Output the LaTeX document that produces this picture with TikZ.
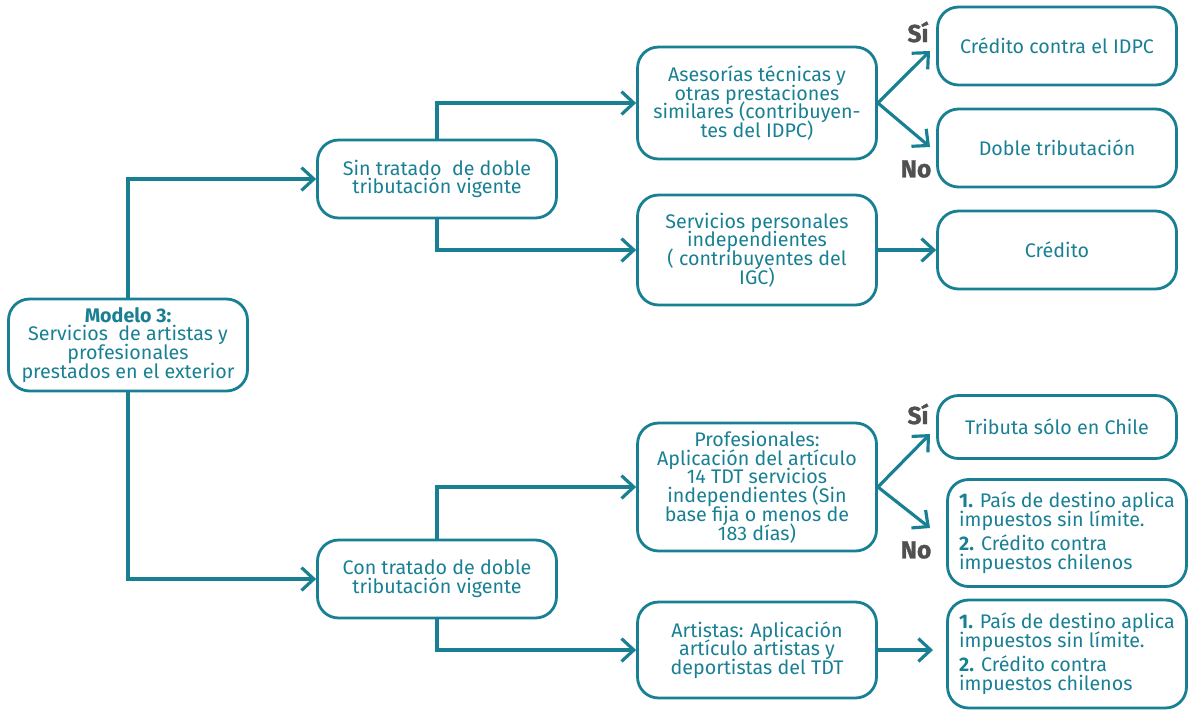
\documentclass[tikz,border=0pt]{standalone}
\usepackage{fontspec}
\setmainfont{Fira Sans}
\usetikzlibrary{arrows.meta}
\definecolor{flowteal}{RGB}{25,128,148}
\definecolor{labgray}{RGB}{80,80,80}
\newcommand{\boxfont}{\fontsize{11.2}{10.7}\selectfont\lineskiplimit=-6pt\relax}

\begin{document}
\begin{tikzpicture}[x=0.02cm,y=-0.02cm,
  box/.style={draw=flowteal,line width=1.6pt,rounded corners=0.42cm,text=flowteal,
    align=center,minimum width=4.78cm,inner sep=2pt,font=\boxfont},
  arr/.style={draw=flowteal,line width=1.8pt,-{Straight Barb[length=7pt,width=13pt,line width=1.8pt]}},
  yesno/.style={text=labgray,font=\bfseries\fontsize{14}{14}\selectfont\addfontfeature{FakeBold=1.2}}]
\useasboundingbox (0,0) rectangle (1192,711);
\node[box,minimum height=1.84cm] (mod) at (128,345) {\textbf{Modelo 3:}\\Servicios~ de artistas y\\profesionales\\prestados en el exterior};
\node[box,minimum height=1.56cm] (sin) at (437,179) {Sin tratado~ de doble\\tributación vigente};
\node[box,minimum height=1.56cm] (con) at (437,579) {Con tratado de doble\\tributación vigente};
\node[box,minimum height=2.24cm] (ase) at (757,103) {Asesorías técnicas y\\otras prestaciones\\similares (contribuyen-\\tes del IDPC)};
\node[box,minimum height=2.2cm] (ser) at (757,250) {Servicios personales\\independientes\\( contribuyentes del\\IGC)};
\node[box,minimum height=2.56cm] (pro) at (757,487) {Profesionales:\\Aplicación del artículo\\14 TDT servicios\\independientes (Sin\\base fija o menos de\\183 días)};
\node[box,minimum height=1.92cm] (art) at (757,650) {Artistas: Aplicación\\artículo artistas y\\deportistas del TDT};
\node[box,minimum height=1.56cm] (cre) at (1057,46) {Crédito contra el IDPC};
\node[box,minimum height=1.56cm] (dob) at (1057,148) {Doble tributación};
\node[box,minimum height=1.56cm] (cgc) at (1057,250) {Crédito};
\node[box,minimum height=1.26cm] (tri) at (1057,427) {Tributa sólo en Chile};
\node[box,align=left,minimum height=2.14cm] (pno) at (1067,533) {\textbf{1.} País de destino aplica\\impuestos sin límite.\\[3pt]\textbf{2.} Crédito contra\\impuestos chilenos};
\node[box,align=left,minimum height=2.16cm] (part) at (1067,654) {\textbf{1.} País de destino aplica\\impuestos sin límite.\\[3pt]\textbf{2.} Crédito contra\\impuestos chilenos};
\node[yesno] (si1) at (918,32) {Sí};
\node[yesno] (no1) at (916,169) {No};
\node[yesno] (si2) at (918,414) {Sí};
\node[yesno] (no2) at (916,550) {No};
\coordinate (t1) at (930,51);
\coordinate (t2) at (930,147);
\coordinate (t3) at (930,434);
\coordinate (t4) at (930,528);
\coordinate (t5) at (933,650);
\draw[arr] (mod.north) |- (sin.west);
\draw[arr] (mod.south) |- (con.west);
\draw[arr] (sin.north) |- (ase.west);
\draw[arr] (sin.south) |- (ser.west);
\draw[arr] (con.north) |- (pro.west);
\draw[arr] (con.south) |- (art.west);
\draw[arr] (ase.east) -- (t1);
\draw[arr] (ase.east) -- (t2);
\draw[arr] (ser.east) -- (cgc.west);
\draw[arr] (pro.east) -- (t3);
\draw[arr] (pro.east) -- (t4);
\draw[arr] (art.east) -- (t5);
\end{tikzpicture}
\end{document}
